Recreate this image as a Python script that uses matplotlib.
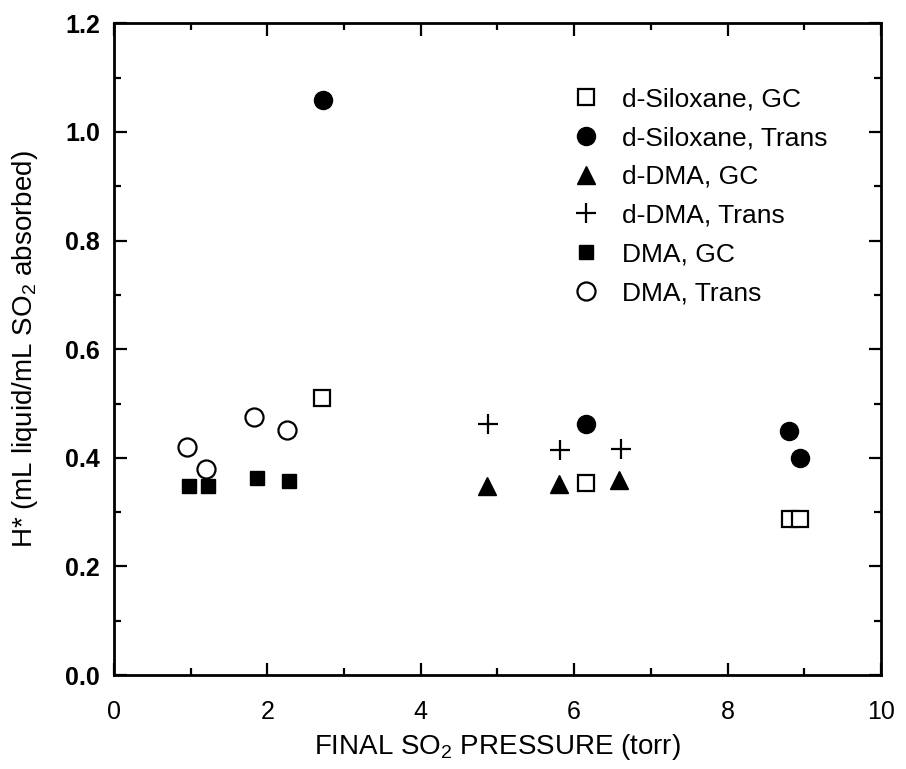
import matplotlib
matplotlib.use("Agg")
import matplotlib.pyplot as plt
from matplotlib.ticker import MultipleLocator

plt.rcParams['font.family'] = ['Liberation Sans', 'DejaVu Sans']
plt.rcParams['mathtext.fontset'] = 'custom'
plt.rcParams['mathtext.rm'] = 'Liberation Sans'
plt.rcParams['mathtext.it'] = 'Liberation Sans:italic'
plt.rcParams['mathtext.bf'] = 'Liberation Sans:bold'

# data
sil_gc_x = [2.71, 6.16, 8.81, 8.95]
sil_gc_y = [0.51, 0.354, 0.287, 0.287]
sil_tr_x = [2.73, 6.16, 8.80, 8.94]
sil_tr_y = [1.058, 0.463, 0.449, 0.400]
dma_d_gc_x = [4.86, 5.80, 6.59]
dma_d_gc_y = [0.349, 0.352, 0.360]
dma_d_tr_x = [4.88, 5.81, 6.61]
dma_d_tr_y = [0.463, 0.414, 0.417]
dma_gc_x = [0.98, 1.23, 1.86, 2.28]
dma_gc_y = [0.349, 0.349, 0.362, 0.358]
dma_tr_x = [0.955, 1.20, 1.82, 2.25]
dma_tr_y = [0.419, 0.379, 0.476, 0.451]

fig = plt.figure(figsize=(9.06, 7.69), dpi=100)
ax = fig.add_axes([0.1258, 0.1222, 0.8466, 0.8474])

ax.plot(sil_gc_x, sil_gc_y, 's', ms=11.5, mfc='white', mec='black', mew=1.6, label='d-Siloxane, GC')
ax.plot(sil_tr_x, sil_tr_y, 'o', ms=13, color='black', label='d-Siloxane, Trans')
ax.plot(dma_d_gc_x, dma_d_gc_y, '^', ms=13.5, color='black', label='d-DMA, GC')
ax.plot(dma_d_tr_x, dma_d_tr_y, '+', ms=14, color='black', mew=1.6, label='d-DMA, Trans')
ax.plot(dma_gc_x, dma_gc_y, 's', ms=9.5, color='black', label='DMA, GC')
ax.plot(dma_tr_x, dma_tr_y, 'o', ms=13, mfc='white', mec='black', mew=1.6, label='DMA, Trans')

ax.set_xlim(0, 10)
ax.set_ylim(0, 1.2)
ax.xaxis.set_major_locator(MultipleLocator(2))
ax.xaxis.set_minor_locator(MultipleLocator(1))
ax.yaxis.set_major_locator(MultipleLocator(0.2))
ax.yaxis.set_minor_locator(MultipleLocator(0.1))
ax.yaxis.set_major_formatter(plt.FormatStrFormatter('%.1f'))

ax.tick_params(which='both', direction='in', top=True, right=True, width=1.6)
ax.tick_params(which='major', length=9, labelsize=18)
ax.tick_params(which='minor', length=5)
ax.tick_params(axis='x', which='major', pad=18)
ax.tick_params(axis='y', which='major', pad=10)
for lab in ax.get_yticklabels():
    lab.set_fontweight('bold')
for sp in ax.spines.values():
    sp.set_linewidth(2)

ax.set_xlabel('FINAL SO$_2$ PRESSURE (torr)', fontsize=20, labelpad=6)
ax.set_ylabel('H* (mL liquid/mL SO$_2$ absorbed)', fontsize=20, labelpad=18)

ax.legend(loc='upper left', bbox_to_anchor=(0.585, 0.918), frameon=False,
          fontsize=19, handlelength=1.0, handletextpad=0.86, labelspacing=0.56,
          borderaxespad=0, numpoints=1)

fig.savefig('out.png', dpi=100)
